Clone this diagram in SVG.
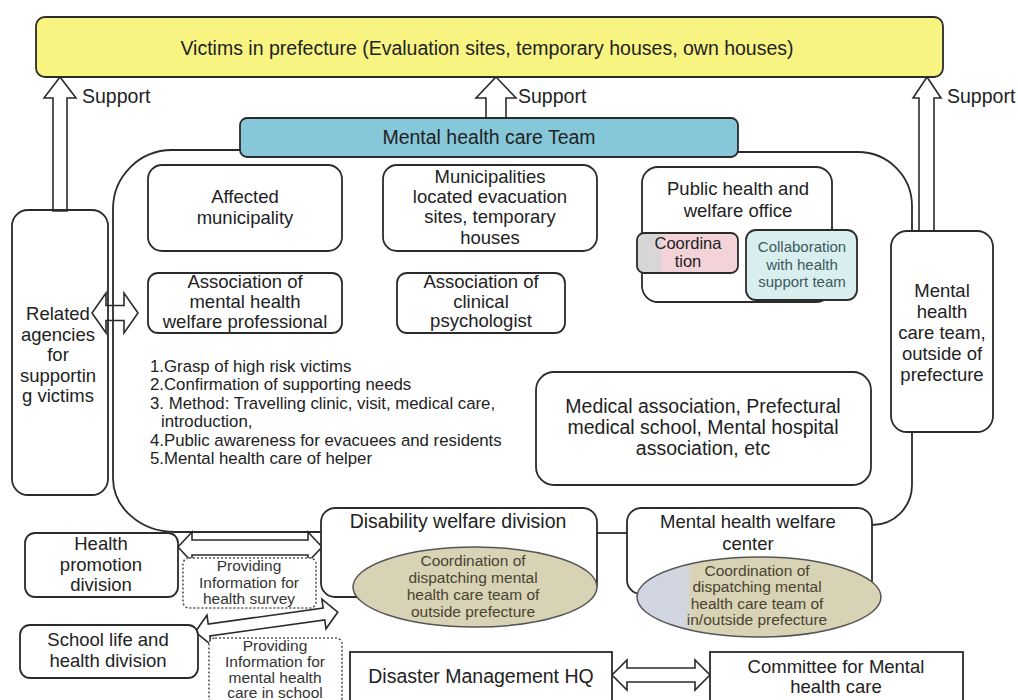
<svg xmlns="http://www.w3.org/2000/svg" width="1018" height="700" viewBox="0 0 1018 700">
<defs>
<style>
.t{font-family:"Liberation Sans",Arial,sans-serif;font-size:18.5px;fill:#222;text-anchor:middle}
.t1{font-family:"Liberation Sans",Arial,sans-serif;font-size:19.5px;fill:#222;text-anchor:middle}
.s{font-family:"Liberation Sans",Arial,sans-serif;font-size:15.5px;fill:#4a4232;text-anchor:middle}
.l{font-family:"Liberation Sans",Arial,sans-serif;font-size:16.8px;fill:#222}
.b{fill:#fff;stroke:#2b2b2b;stroke-width:1.8}
.n{fill:none;stroke:#2b2b2b;stroke-width:1.8}
.ar{fill:#fff;stroke:#2b2b2b;stroke-width:1.6;stroke-linejoin:miter}
.d{fill:#fff;stroke:#555;stroke-width:1.6;stroke-dasharray:2,2}
</style>
<linearGradient id="gc" x1="0" x2="1" y1="0" y2="0">
<stop offset="0" stop-color="#d6d6d6"/><stop offset="0.22" stop-color="#d9d5d6"/><stop offset="0.26" stop-color="#f3d3d8"/><stop offset="1" stop-color="#f3d3d8"/>
</linearGradient>
<linearGradient id="ge" x1="0" x2="1" y1="0" y2="0">
<stop offset="0" stop-color="#d0d5e2"/><stop offset="0.2" stop-color="#d3d6df"/><stop offset="0.23" stop-color="#d8d3b5"/><stop offset="1" stop-color="#d8d3b5"/>
</linearGradient>
</defs>
<rect width="1018" height="700" fill="#fff"/>

<g id="connectors">
<path class="ar" d="M60,77 L76,98 L67,98 L67,211 L53,211 L53,98 L44,98 Z"/>
<path class="ar" d="M496,77 L516,98 L506,98 L506,118 L486,118 L486,98 L476,98 Z"/>
<path class="ar" d="M927,77 L941,98 L934,98 L934,231 L919,231 L919,98 L913,98 Z"/>
<path class="ar" d="M92,313 L106,293 L106,305.5 L124,305.5 L124,293 L138,313 L124,333 L124,320.5 L106,320.5 L106,333 Z"/>
<path class="ar" d="M178,547 L192,532 L192,540 L308,540 L308,532 L322,547 L308,562 L308,555 L192,555 L192,562 Z"/>
<path class="ar" transform="translate(266.5,622) rotate(-7.96)" d="M-72,0 L-58,-15 L-58,-6 L58,-6 L58,-15 L72,0 L58,15 L58,6 L-58,6 L-58,15 Z"/>
<path class="ar" d="M612,675 L627,660 L627,668 L695,668 L695,660 L710,675 L695,690 L695,682 L627,682 L627,690 Z"/>
<path class="n" d="M240,150 H172 A59,59 0 0 0 113,209 V478 A62,54 0 0 0 175,532 H322"/>
<path class="n" d="M738,152 H858 A54,54 0 0 1 912,206 V485 A40,40 0 0 1 872,525"/>
<path class="n" d="M597,533 H627"/>
</g>

<g id="victims">
<rect x="36" y="17" width="907" height="60" rx="9" fill="#f8f482" stroke="#2b2b2b" stroke-width="1.8"/>
<text class="t1" x="487" y="55">Victims in prefecture (Evaluation sites, temporary houses, own houses)</text>
</g>
<g id="support-labels">
<text class="t1" x="82" y="103" style="text-anchor:start">Support</text>
<text class="t1" x="518" y="103" style="text-anchor:start">Support</text>
<text class="t1" x="947" y="103" style="text-anchor:start">Support</text>
</g>

<g id="team">
<rect x="240" y="118" width="498" height="39" rx="7" fill="#86c7da" stroke="#2b2b2b" stroke-width="1.8"/>
<text class="t1" x="489" y="144">Mental health care Team</text>
</g>

<g id="related">
<rect x="12" y="210" width="96" height="285" rx="16" fill="none" stroke="#2b2b2b" stroke-width="1.8"/>
<text class="t" x="58" y="320">Related</text>
<text class="t" x="58" y="341">agencies</text>
<text class="t" x="58" y="361">for</text>
<text class="t" x="58" y="382">supportin</text>
<text class="t" x="58" y="402">g victims</text>
</g>

<g id="affected">
<rect class="b" x="148" y="165" width="194" height="86" rx="14"/>
<text class="t" x="245" y="203">Affected</text>
<text class="t" x="245" y="224">municipality</text>
</g>

<g id="municipalities">
<rect class="b" x="383" y="165" width="214" height="86" rx="14"/>
<text class="t" x="490" y="183">Municipalities</text>
<text class="t" x="490" y="203">located evacuation</text>
<text class="t" x="490" y="223">sites, temporary</text>
<text class="t" x="490" y="244">houses</text>
</g>

<g id="public-health">
<rect class="b" x="642" y="167" width="190" height="135" rx="16"/>
<text class="t" x="738" y="195">Public health and</text>
<text class="t" x="738" y="217">welfare office</text>
</g>
<g id="coordination">
<rect x="637" y="233" width="101" height="40" rx="7" fill="url(#gc)" stroke="#2b2b2b" stroke-width="1.8"/>
<text class="t" x="688" y="249" style="font-size:16.5px">Coordina</text>
<text class="t" x="688" y="267" style="font-size:16.5px">tion</text>
</g>
<g id="collaboration">
<rect x="746" y="230" width="111" height="70" rx="10" fill="#d9eeee" stroke="#2b2b2b" stroke-width="1.8"/>
<text class="t" x="802" y="252" style="font-size:15px;fill:#3a5a5e">Collaboration</text>
<text class="t" x="802" y="270" style="font-size:15px;fill:#3a5a5e">with health</text>
<text class="t" x="802" y="287" style="font-size:15px;fill:#3a5a5e">support team</text>
</g>

<g id="assoc-mental">
<rect class="b" x="148" y="273" width="194" height="60" rx="10"/>
<text class="t" x="245" y="288">Association of</text>
<text class="t" x="245" y="308">mental health</text>
<text class="t" x="245" y="328">welfare professional</text>
</g>

<g id="assoc-clinical">
<rect class="b" x="397" y="273" width="168" height="60" rx="10"/>
<text class="t" x="481" y="288">Association of</text>
<text class="t" x="481" y="308">clinical</text>
<text class="t" x="481" y="327">psychologist</text>
</g>

<g id="activities">
<text class="l" x="150" y="372">1.Grasp of high risk victims</text>
<text class="l" x="150" y="390">2.Confirmation of supporting needs</text>
<text class="l" x="150" y="409">3. Method: Travelling clinic, visit, medical care,</text>
<text class="l" x="161" y="427">introduction,</text>
<text class="l" x="150" y="446">4.Public awareness for evacuees and residents</text>
<text class="l" x="150" y="464">5.Mental health care of helper</text>
</g>

<g id="medical">
<rect class="b" x="536" y="372" width="335" height="113" rx="18"/>
<text class="t1" x="703" y="413">Medical association, Prefectural</text>
<text class="t1" x="703" y="434">medical school, Mental hospital</text>
<text class="t1" x="703" y="455">association, etc</text>
</g>

<g id="outside-team">
<rect class="b" x="891" y="231" width="102" height="201" rx="16"/>
<text class="t" x="942" y="297">Mental</text>
<text class="t" x="942" y="318">health</text>
<text class="t" x="942" y="339">care team,</text>
<text class="t" x="942" y="360">outside of</text>
<text class="t" x="942" y="381">prefecture</text>
</g>

<g id="disability">
<rect class="b" x="321" y="508" width="276" height="89" rx="14"/>
<text class="t1" x="458" y="528">Disability welfare division</text>
<ellipse cx="475" cy="587" rx="122" ry="40" fill="#d8d3b5" stroke="#555" stroke-width="1.5"/>
<text class="s" x="473" y="566">Coordination of</text>
<text class="s" x="473" y="583">dispatching mental</text>
<text class="s" x="473" y="600">health care team of</text>
<text class="s" x="473" y="617">outside prefecture</text>
</g>

<g id="mhw-center">
<rect class="b" x="627" y="508" width="245" height="86" rx="14"/>
<text class="t" x="748" y="528">Mental health welfare</text>
<text class="t" x="748" y="550">center</text>
<ellipse cx="759" cy="597" rx="122" ry="40" fill="url(#ge)" stroke="#555" stroke-width="1.5"/>
<text class="s" x="757" y="576">Coordination of</text>
<text class="s" x="757" y="592">dispatching mental</text>
<text class="s" x="757" y="609">health care team of</text>
<text class="s" x="757" y="625">in/outside prefecture</text>
</g>

<g id="health-promotion">
<rect class="b" x="25" y="533" width="153" height="64" rx="10"/>
<text class="t" x="101" y="550">Health</text>
<text class="t" x="101" y="571">promotion</text>
<text class="t" x="101" y="591">division</text>
</g>

<g id="info-survey">
<rect class="d" x="183" y="558" width="133" height="50" rx="6"/>
<text class="s" x="249" y="571" style="fill:#333">Providing</text>
<text class="s" x="249" y="588" style="fill:#333">Information  for</text>
<text class="s" x="249" y="604" style="fill:#333">health survey</text>
</g>

<g id="school">
<rect class="b" x="20" y="625" width="178" height="53" rx="10"/>
<text class="t" x="108" y="646">School life and</text>
<text class="t" x="108" y="667">health division</text>
</g>

<g id="info-school">
<rect class="d" x="209" y="638" width="133" height="70" rx="6"/>
<text class="s" x="275" y="651" style="fill:#333">Providing</text>
<text class="s" x="275" y="667" style="fill:#333">Information  for</text>
<text class="s" x="275" y="683" style="fill:#333">mental health</text>
<text class="s" x="275" y="698" style="fill:#333">care in school</text>
</g>

<g id="hq">
<rect class="b" x="350" y="652" width="262" height="60"/>
<text class="t1" x="481" y="683">Disaster Management HQ</text>
</g>

<g id="committee">
<rect class="b" x="710" y="652" width="253" height="60"/>
<text class="t" x="836" y="673">Committee for Mental</text>
<text class="t" x="836" y="693">health care</text>
</g>
</svg>
